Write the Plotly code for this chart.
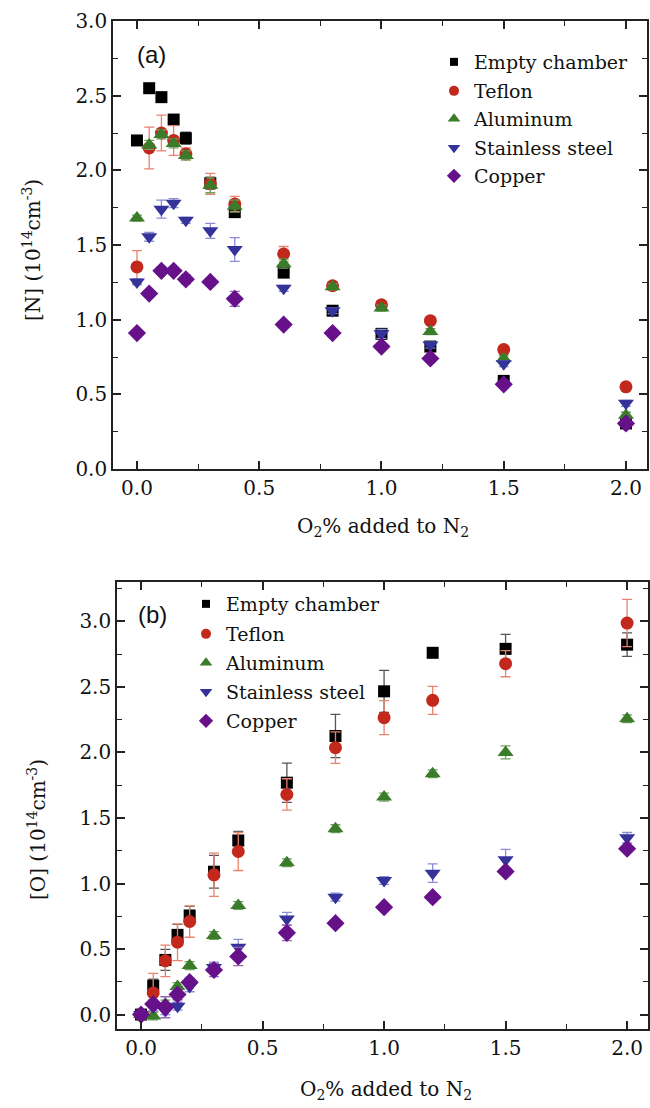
import plotly.graph_objects as go

# ---------------- data ----------------
o2_pct = [0, 0.05, 0.1, 0.15, 0.2, 0.3, 0.4, 0.6, 0.8, 1.0, 1.2, 1.5, 2.0]
series_names = ["Empty chamber", "Teflon", "Aluminum", "Stainless steel", "Copper"]

# Panel (a): [N] (1e14 cm^-3)
n_empty = [2.20, 2.55, 2.49, 2.34, 2.215, 1.915, 1.72, 1.315, 1.06, 0.905, 0.82, 0.59, 0.305]
n_empty_err = [0.02, 0.02, 0.02, 0.02, 0.04, 0.04, 0.03, 0.02, 0.02, 0.02, 0.02, 0.02, 0.02]
n_teflon = [1.353, 2.15, 2.25, 2.20, 2.11, 1.91, 1.775, 1.44, 1.227, 1.10, 0.993, 0.80, 0.55]
n_teflon_err = [0.11, 0.14, 0.12, 0.10, 0.04, 0.07, 0.05, 0.05, 0.02, 0.02, 0.02, 0.02, 0.02]
n_alu = [1.68, 2.17, 2.24, 2.18, 2.10, 1.90, 1.76, 1.375, 1.22, 1.078, 0.92, 0.74, 0.36]
n_alu_err = [0.02, 0.03, 0.03, 0.03, 0.03, 0.05, 0.04, 0.03, 0.02, 0.02, 0.02, 0.02, 0.02]
n_ss = [1.253, 1.555, 1.74, 1.78, 1.665, 1.595, 1.47, 1.21, 1.06, 0.905, 0.83, 0.705, 0.44]
n_ss_err = [0.02, 0.03, 0.06, 0.03, 0.02, 0.05, 0.08, 0.02, 0.02, 0.03, 0.02, 0.02, 0.02]
n_cu = [0.91, 1.175, 1.327, 1.327, 1.27, 1.253, 1.14, 0.967, 0.91, 0.82, 0.74, 0.567, 0.305]
n_cu_err = [0.01, 0.02, 0.02, 0.02, 0.03, 0.02, 0.05, 0.02, 0.02, 0.02, 0.02, 0.02, 0.02]

# Panel (b): [O] (1e14 cm^-3)
o_empty = [0.0, 0.221, 0.417, 0.608, 0.756, 1.09, 1.328, 1.769, 2.125, 2.466, 2.76, 2.79, 2.822]
o_empty_err = [0.01, 0.05, 0.08, 0.08, 0.07, 0.125, 0.07, 0.15, 0.165, 0.16, 0.02, 0.11, 0.09]
o_teflon = [0.0, 0.165, 0.41, 0.552, 0.71, 1.066, 1.244, 1.679, 2.036, 2.265, 2.397, 2.677, 2.987]
o_teflon_err = [0.01, 0.15, 0.12, 0.14, 0.12, 0.165, 0.145, 0.12, 0.12, 0.13, 0.107, 0.10, 0.18]
o_alu = [0.0, -0.01, 0.08, 0.214, 0.374, 0.603, 0.832, 1.158, 1.418, 1.659, 1.837, 2.00, 2.257]
o_alu_err = [0.01, 0.03, 0.03, 0.03, 0.03, 0.03, 0.03, 0.03, 0.03, 0.03, 0.03, 0.05, 0.03]
o_ss = [0.0, 0.06, 0.03, 0.064, 0.214, 0.36, 0.514, 0.73, 0.896, 1.023, 1.079, 1.181, 1.349]
o_ss_err = [0.01, 0.03, 0.03, 0.03, 0.04, 0.04, 0.06, 0.05, 0.03, 0.03, 0.07, 0.08, 0.04]
o_cu = [0.0, 0.08, 0.056, 0.153, 0.247, 0.34, 0.443, 0.624, 0.697, 0.819, 0.896, 1.092, 1.265]
o_cu_err = [0.01, 0.03, 0.08, 0.04, 0.03, 0.05, 0.07, 0.06, 0.02, 0.02, 0.02, 0.02, 0.02]

x_ticks = [0.0, 0.5, 1.0, 1.5, 2.0]
x_ticklabels = ["0.0", "0.5", "1.0", "1.5", "2.0"]
ya_ticks = [0.0, 0.5, 1.0, 1.5, 2.0, 2.5, 3.0]
yb_ticks = [0.0, 0.5, 1.0, 1.5, 2.0, 2.5, 3.0]

# ---------------- styles ----------------
symbols = ["square", "circle", "triangle-up", "triangle-down", "diamond"]
colors = ["#000000", "#C3281D", "#3A7C2A", "#33339A", "#66108A"]
err_colors = ["#555555", "#E8836F", "#6FA25F", "#8C8CD6", "#9A66B8"]
sizes = [12, 13, 14, 14, 14]
leg_sizes = [8, 10, 11, 11, 11]

SERIF = "DejaVu Serif"
SANS = "Liberation Sans"
TICK_FS = 20
LEG_FS = 19
TITLE_FS = 20

W, H = 650, 1108

def px_x(p):
    return p / W

def px_y(p):
    return (H - p) / H

# legend row anchors (px) for each panel
leg_rows_a = [62, 91, 119, 148, 176]
leg_rows_b = [604, 634, 663, 692, 721]

fig = go.Figure()

panel_a = [(n_empty, n_empty_err), (n_teflon, n_teflon_err), (n_alu, n_alu_err),
           (n_ss, n_ss_err), (n_cu, n_cu_err)]
panel_b = [(o_empty, o_empty_err), (o_teflon, o_teflon_err), (o_alu, o_alu_err),
           (o_ss, o_ss_err), (o_cu, o_cu_err)]

legend_layout = {}
leg_idx = 1
for panel, xa, ya, rows, legx in [
        (panel_a, "x", "y", leg_rows_a, 434),
        (panel_b, "x2", "y2", leg_rows_b, 186)]:
    for i, (vals, errs) in enumerate(panel):
        fig.add_trace(go.Scatter(
            x=o2_pct, y=vals, mode="markers", xaxis=xa, yaxis=ya,
            name=series_names[i], showlegend=False,
            marker=dict(symbol=symbols[i], size=sizes[i], color=colors[i], line=dict(width=0)),
            error_y=dict(type="data", array=errs, visible=True, color=err_colors[i],
                         thickness=1.3, width=5),
        ))
    for i in range(5):
        lname = "legend" if leg_idx == 1 else f"legend{leg_idx}"
        fig.add_trace(go.Scatter(
            x=[None], y=[None], mode="markers", xaxis=xa, yaxis=ya,
            name=series_names[i], legend=lname, showlegend=True,
            marker=dict(symbol=symbols[i], size=leg_sizes[i], color=colors[i], line=dict(width=0)),
        ))
        legend_layout[lname] = dict(
            x=px_x(legx), y=px_y(rows[i]), xanchor="left", yanchor="middle",
            font=dict(family=SERIF, size=LEG_FS, color="#111111"),
            bgcolor="rgba(0,0,0,0)", itemsizing="trace")
        leg_idx += 1

axis_common = dict(
    showline=True, linecolor="#222222", linewidth=1.6, mirror="ticks",
    ticks="inside", ticklen=8, tickwidth=1.5, tickcolor="#222222",
    showgrid=False, zeroline=False, automargin=False,
    tickfont=dict(family=SERIF, size=TICK_FS, color="#111111"),
    minor=dict(ticks="inside", ticklen=5, tickwidth=1.3, tickcolor="#222222", showgrid=False),
)

fig.update_layout(
    width=W, height=H,
    margin=dict(l=0, r=0, t=0, b=0, autoexpand=False),
    paper_bgcolor="white", plot_bgcolor="white",
    font=dict(family=SERIF, size=TICK_FS, color="#111111"),
    xaxis=dict(domain=[px_x(113), px_x(647)], range=[-0.098, 2.086], anchor="y",
               tickvals=x_ticks, ticktext=x_ticklabels, minor_dtick=0.25, **axis_common),
    yaxis=dict(domain=[px_y(469), px_y(21)], range=[0, 3.0], anchor="x",
               tickvals=ya_ticks, ticktext=[f"{v:.1f}" for v in ya_ticks], minor_dtick=0.25,
               **axis_common),
    xaxis2=dict(domain=[px_x(117), px_x(648)], range=[-0.099, 2.086], anchor="y2",
                tickvals=x_ticks, ticktext=x_ticklabels, minor_dtick=0.25, **axis_common),
    yaxis2=dict(domain=[px_y(1029), px_y(582)], range=[-0.11, 3.30], anchor="x2",
                tickvals=yb_ticks, ticktext=[f"{v:.1f}" for v in yb_ticks], minor_dtick=0.25,
                **axis_common),
    showlegend=True,
    **legend_layout,
)

annos = [
    dict(text="(a)", x=px_x(151), y=px_y(54), font=dict(family=SANS, size=24, color="#111111")),
    dict(text="(b)", x=px_x(152), y=px_y(614), font=dict(family=SANS, size=24, color="#111111")),
    dict(text="O<sub>2</sub>% added to N<sub>2</sub>", x=px_x(383), y=px_y(527),
         font=dict(family=SERIF, size=TITLE_FS, color="#111111")),
    dict(text="O<sub>2</sub>% added to N<sub>2</sub>", x=px_x(386), y=px_y(1090),
         font=dict(family=SERIF, size=TITLE_FS, color="#111111")),
    dict(text="[N] (10<sup>14</sup>cm<sup>-3</sup>)", x=px_x(32), y=px_y(250), textangle=-90,
         font=dict(family=SERIF, size=TITLE_FS, color="#111111")),
    dict(text="[O] (10<sup>14</sup>cm<sup>-3</sup>)", x=px_x(37), y=px_y(830), textangle=-90,
         font=dict(family=SERIF, size=TITLE_FS, color="#111111")),
]
for a in annos:
    fig.add_annotation(xref="paper", yref="paper", showarrow=False,
                       xanchor="center", yanchor="middle", **a)

fig.write_html("out.html")
